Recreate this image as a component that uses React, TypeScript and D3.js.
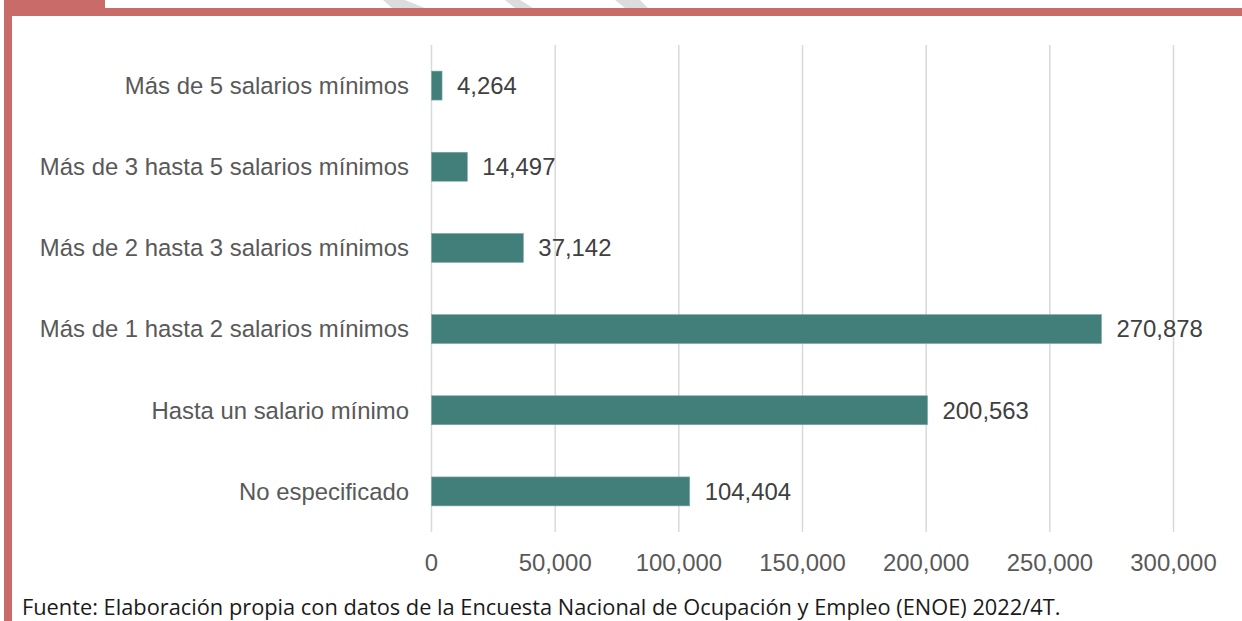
import React from "react";
import * as d3 from "d3";

const categories = [
  "Más de 5 salarios mínimos",
  "Más de 3 hasta 5 salarios mínimos",
  "Más de 2 hasta 3 salarios mínimos",
  "Más de 1 hasta 2 salarios mínimos",
  "Hasta un salario mínimo",
  "No especificado",
];
const values = [4264, 14497, 37142, 270878, 200563, 104404];
const ticks = [0, 50000, 100000, 150000, 200000, 250000, 300000];
const source =
  "Fuente: Elaboración propia con datos de la Encuesta Nacional de Ocupación y Empleo (ENOE) 2022/4T.";

const W = 1242;
const H = 621;
const RED = "#C96B68";

export default function App() {
  const x = d3.scaleLinear().domain([0, 300000]).range([431.5, 1173.5]);
  const y = d3
    .scaleBand<string>()
    .domain(categories)
    .range([45, 532])
    .paddingInner(0.643)
    .paddingOuter(0.3215);
  const fmt = d3.format(",");
  const font = "'Liberation Sans', Arial, sans-serif";
  const fs = 23.9;

  return (
    <svg
      width={W}
      height={H}
      style={{ position: "absolute", left: 0, top: 0, background: "#fff" }}
    >
      <rect x={0} y={0} width={W} height={H} fill="#fff" />
      {/* faint watermark strokes at top */}
      <g fill="#DCDCDC">
        <polygon points="383,0 405,0 425,8 392,8" />
        <polygon points="505,0 520,0 533,8 515,8" />
        <polygon points="615,0 640,0 648,8 625,8" />
      </g>
      {/* frame */}
      <rect x={4} y={0} width={101} height={16} fill={RED} />
      <rect x={4} y={8} width={W - 4} height={8} fill={RED} />
      <rect x={4} y={0} width={8} height={H} fill={RED} />

      {/* gridlines */}
      <g>
        {ticks.map((t) => (
          <line
            key={t}
            x1={x(t)}
            x2={x(t)}
            y1={45}
            y2={532}
            stroke="#D9D9D9"
            strokeWidth={1.5}
          />
        ))}
      </g>

      {/* bars */}
      <g>
        {categories.map((c, i) => (
          <rect
            key={c}
            x={x(0)}
            y={y(c)!}
            width={x(values[i]) - x(0)}
            height={y.bandwidth()}
            fill="#427F7A"
            stroke="#7FA9A5"
            strokeWidth={0.6}
          />
        ))}
      </g>

      {/* category labels */}
      <g fontFamily={font} fontSize={fs} fill="#595959" textAnchor="end">
        {categories.map((c) => (
          <text key={c} x={409} y={y(c)! + y.bandwidth() / 2} dy="0.35em">
            {c}
          </text>
        ))}
      </g>

      {/* value labels */}
      <g fontFamily={font} fontSize={fs} fill="#404040">
        {categories.map((c, i) => (
          <text
            key={c}
            x={x(values[i]) + 15}
            y={y(c)! + y.bandwidth() / 2}
            dy="0.35em"
          >
            {fmt(values[i])}
          </text>
        ))}
      </g>

      {/* tick labels */}
      <g fontFamily={font} fontSize={fs} fill="#595959" textAnchor="middle">
        {ticks.map((t) => (
          <text key={t} x={x(t)} y={570.5}>
            {fmt(t)}
          </text>
        ))}
      </g>

      {/* source */}
      <text
        x={22}
        y={615}
        fontFamily="'Open Sans', sans-serif"
        fontSize={21.8}
        fill="#1a1a1a"
      >
        {source}
      </text>
    </svg>
  );
}
